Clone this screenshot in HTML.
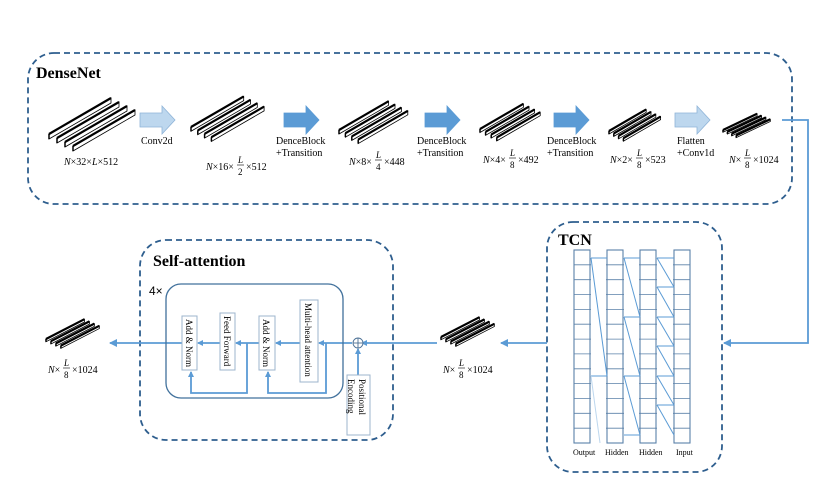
<!DOCTYPE html>
<html><head><meta charset="utf-8"><style>
html,body{margin:0;padding:0;background:#fff;}
svg{display:block;font-family:"Liberation Serif",serif;}
</style></head><body>
<svg width="830" height="498" viewBox="0 0 830 498" xmlns="http://www.w3.org/2000/svg">
<defs>
<g id="slab">
<polygon points="0,0 62,-36 62,-31 0,5" fill="#fff" stroke="#000" stroke-width="0.8" vector-effect="non-scaling-stroke"/>
<line x1="0" y1="0" x2="62" y2="-36" stroke="#000" stroke-width="2.2" vector-effect="non-scaling-stroke"/>
<line x1="0" y1="0" x2="0" y2="5" stroke="#000" stroke-width="1.5" vector-effect="non-scaling-stroke"/>
</g>
<g id="stack">
<use href="#slab" x="0" y="0"/><use href="#slab" x="8" y="4"/><use href="#slab" x="16" y="8"/><use href="#slab" x="24" y="12"/>
</g>
<marker id="ah" markerWidth="8" markerHeight="8" refX="7" refY="4" orient="auto" markerUnits="userSpaceOnUse"><path d="M0,0 L8,4 L0,8 Z" fill="#5b9bd5"/></marker>
<marker id="as" markerWidth="6" markerHeight="6" refX="5" refY="3" orient="auto" markerUnits="userSpaceOnUse"><path d="M0,0 L6,3 L0,6 Z" fill="#5b9bd5"/></marker>
</defs>

<rect x="28" y="53" width="764" height="151" rx="26" fill="none" stroke="#2e5e8e" stroke-width="1.8" stroke-dasharray="6,4"/>
<rect x="140" y="240" width="253" height="200" rx="26" fill="none" stroke="#2e5e8e" stroke-width="1.8" stroke-dasharray="6,4"/>
<rect x="547" y="222" width="175" height="250" rx="26" fill="none" stroke="#2e5e8e" stroke-width="1.8" stroke-dasharray="6,4"/>

<text x="36" y="78" font-size="16" font-weight="bold">DenseNet</text>
<text x="153" y="266" font-size="16" font-weight="bold">Self-attention</text>
<text x="558" y="245" font-size="16" font-weight="bold">TCN</text>

<g transform="translate(49,134)"><use href="#stack"/></g>
<g transform="translate(191,127) scale(0.85)"><use href="#stack"/></g>
<g transform="translate(339,130) scale(0.8)"><use href="#stack"/></g>
<g transform="translate(480,129) scale(0.7)"><use href="#stack"/></g>
<g transform="translate(609,131) scale(0.6)"><use href="#stack"/></g>
<g transform="translate(723,130) scale(0.55,0.45)"><use href="#stack"/></g>
<g transform="translate(441,337) scale(0.62,0.55)"><use href="#stack"/></g>
<g transform="translate(46,339) scale(0.62,0.55)"><use href="#stack"/></g>

<g stroke="#8fb4d8" stroke-width="0.8">
<polygon points="140,113 162,113 162,106 175,120 162,134 162,127 140,127" fill="#bdd7ee"/>
<polygon points="284,113 306,113 306,106 319,120 306,134 306,127 284,127" fill="#5b9bd5" stroke="#5b9bd5"/>
<polygon points="425,113 447,113 447,106 460,120 447,134 447,127 425,127" fill="#5b9bd5" stroke="#5b9bd5"/>
<polygon points="554,113 576,113 576,106 589,120 576,134 576,127 554,127" fill="#5b9bd5" stroke="#5b9bd5"/>
<polygon points="675,113 697,113 697,106 710,120 697,134 697,127 675,127" fill="#bdd7ee"/>
</g>

<g font-size="10">
<text x="141" y="144">Conv2d</text>
<text x="276" y="144">DenceBlock</text><text x="276" y="156">+Transition</text>
<text x="417" y="144">DenceBlock</text><text x="417" y="156">+Transition</text>
<text x="547" y="144">DenceBlock</text><text x="547" y="156">+Transition</text>
<text x="677" y="144">Flatten</text><text x="677" y="156">+Conv1d</text>
</g>

<g font-size="10">
<text x="64" y="165"><tspan font-style="italic">N</tspan>×32×<tspan font-style="italic">L</tspan>×512</text>
<text x="206" y="170"><tspan font-style="italic">N</tspan>×16×</text><text x="238" y="163" font-size="9" font-style="italic">L</text><line x1="237" y1="165" x2="244" y2="165" stroke="#000" stroke-width="0.6"/><text x="238" y="175" font-size="9">2</text><text x="246" y="170">×512</text>
<text x="349" y="165"><tspan font-style="italic">N</tspan>×8×</text><text x="376" y="158" font-size="9" font-style="italic">L</text><line x1="375" y1="160" x2="382" y2="160" stroke="#000" stroke-width="0.6"/><text x="376" y="170" font-size="9">4</text><text x="384" y="165">×448</text>
<text x="483" y="163"><tspan font-style="italic">N</tspan>×4×</text><text x="510" y="156" font-size="9" font-style="italic">L</text><line x1="509" y1="158" x2="516" y2="158" stroke="#000" stroke-width="0.6"/><text x="510" y="168" font-size="9">8</text><text x="518" y="163">×492</text>
<text x="610" y="163"><tspan font-style="italic">N</tspan>×2×</text><text x="637" y="156" font-size="9" font-style="italic">L</text><line x1="636" y1="158" x2="643" y2="158" stroke="#000" stroke-width="0.6"/><text x="637" y="168" font-size="9">8</text><text x="645" y="163">×523</text>
<text x="729" y="163"><tspan font-style="italic">N</tspan>×</text><text x="745" y="156" font-size="9" font-style="italic">L</text><line x1="744" y1="158" x2="751" y2="158" stroke="#000" stroke-width="0.6"/><text x="745" y="168" font-size="9">8</text><text x="753" y="163">×1024</text>
<text x="443" y="373"><tspan font-style="italic">N</tspan>×</text><text x="459" y="366" font-size="9" font-style="italic">L</text><line x1="458" y1="368" x2="465" y2="368" stroke="#000" stroke-width="0.6"/><text x="459" y="378" font-size="9">8</text><text x="467" y="373">×1024</text>
<text x="48" y="373"><tspan font-style="italic">N</tspan>×</text><text x="64" y="366" font-size="9" font-style="italic">L</text><line x1="63" y1="368" x2="70" y2="368" stroke="#000" stroke-width="0.6"/><text x="64" y="378" font-size="9">8</text><text x="72" y="373">×1024</text>
</g>

<g fill="none" stroke="#5b9bd5" stroke-width="1.8">
<polyline points="782,120 808,120 808,343 724,343" marker-end="url(#ah)"/>
<line x1="547" y1="343" x2="501" y2="343" marker-end="url(#ah)"/>
<line x1="437" y1="343" x2="362" y2="343" marker-end="url(#as)"/>
<line x1="352" y1="343" x2="319" y2="343" marker-end="url(#as)"/>
<line x1="300" y1="343" x2="276" y2="343" marker-end="url(#as)"/>
<line x1="259" y1="343" x2="236" y2="343" marker-end="url(#as)"/>
<line x1="220" y1="343" x2="198" y2="343" marker-end="url(#as)"/>
<line x1="182" y1="343" x2="110" y2="343" marker-end="url(#ah)"/>
<polyline points="326,343 326,393 268,393 268,372" marker-end="url(#as)"/>
<polyline points="247,343 247,393 191,393 191,372" marker-end="url(#as)"/>
<line x1="358" y1="375" x2="358" y2="349" marker-end="url(#as)"/>
</g>
<circle cx="358" cy="343" r="5" fill="#fff" stroke="#4a6f94" stroke-width="0.9"/>
<line x1="353" y1="343" x2="363" y2="343" stroke="#4a6f94" stroke-width="0.9"/>
<line x1="358" y1="338" x2="358" y2="348" stroke="#4a6f94" stroke-width="0.9"/>

<rect x="166" y="284" width="177" height="114" rx="15" fill="none" stroke="#41719c" stroke-width="1.3"/>
<text x="149" y="295" font-size="12" font-family="Liberation Sans, sans-serif">4×</text>
<g fill="#fff" stroke="#9db4cc" stroke-width="1">
<rect x="182" y="316" width="15" height="54"/>
<rect x="220" y="313" width="15" height="57"/>
<rect x="259" y="316" width="16" height="54"/>
<rect x="300" y="300" width="18" height="82"/>
<rect x="347" y="375" width="23" height="60"/>
</g>
<g font-size="9">
<text transform="translate(186,319) rotate(90)">Add &amp; Norm</text>
<text transform="translate(224,316) rotate(90)">Feed Forward</text>
<text transform="translate(263,319) rotate(90)">Add &amp; Norm</text>
<text transform="translate(305,303) rotate(90)">Multi-head attention</text>
<text transform="translate(359,379) rotate(90)">Positional</text>
<text transform="translate(348,379) rotate(90)">Encoding</text>
</g>

<g stroke="#5a80a8" stroke-width="0.8">
<line x1="574" y1="264.8" x2="690" y2="264.8"/><line x1="574" y1="279.7" x2="690" y2="279.7"/>
<line x1="574" y1="294.5" x2="690" y2="294.5"/><line x1="574" y1="309.4" x2="690" y2="309.4"/>
<line x1="574" y1="324.2" x2="690" y2="324.2"/><line x1="574" y1="339.1" x2="690" y2="339.1"/>
<line x1="574" y1="353.9" x2="690" y2="353.9"/><line x1="574" y1="368.8" x2="690" y2="368.8"/>
<line x1="574" y1="383.6" x2="690" y2="383.6"/><line x1="574" y1="398.5" x2="690" y2="398.5"/>
<line x1="574" y1="413.3" x2="690" y2="413.3"/><line x1="574" y1="428.2" x2="690" y2="428.2"/>
</g>
<rect x="591" y="249" width="15" height="195" fill="#fff"/>
<rect x="624" y="249" width="15" height="195" fill="#fff"/>
<rect x="657" y="249" width="16" height="195" fill="#fff"/>
<g fill="none" stroke="#5a80a8" stroke-width="1.1">
<rect x="574" y="250" width="16" height="193"/>
<rect x="607" y="250" width="16" height="193"/>
<rect x="640" y="250" width="16" height="193"/>
<rect x="674" y="250" width="16" height="193"/>
</g>
<g fill="none" stroke="#5b9bd5" stroke-width="1">
<line x1="674" y1="258" x2="657" y2="258"/><line x1="674" y1="287" x2="657" y2="258"/>
<line x1="674" y1="287" x2="657" y2="287"/><line x1="674" y1="317" x2="657" y2="287"/>
<line x1="674" y1="317" x2="657" y2="317"/><line x1="674" y1="346" x2="657" y2="317"/>
<line x1="674" y1="346" x2="657" y2="346"/><line x1="674" y1="376" x2="657" y2="346"/>
<line x1="674" y1="376" x2="657" y2="376"/><line x1="674" y1="405" x2="657" y2="376"/>
<line x1="674" y1="405" x2="657" y2="405"/><line x1="674" y1="435" x2="657" y2="405"/>
<line x1="640" y1="258" x2="624" y2="258"/><line x1="640" y1="317" x2="624" y2="258"/>
<line x1="640" y1="317" x2="624" y2="317"/><line x1="640" y1="376" x2="624" y2="317"/>
<line x1="640" y1="376" x2="624" y2="376"/><line x1="640" y1="435" x2="624" y2="376"/>
<line x1="640" y1="435" x2="624" y2="435"/>
<line x1="607" y1="258" x2="591" y2="258"/><line x1="607" y1="376" x2="591" y2="258"/>
<line x1="607" y1="376" x2="591" y2="376"/><line x1="600" y1="443" x2="591" y2="376" stroke="#bdd7ee"/>
</g>
<g font-size="8">
<text x="573" y="455">Output</text><text x="605" y="455">Hidden</text><text x="639" y="455">Hidden</text><text x="676" y="455">Input</text>
</g>
</svg>
</body></html>
